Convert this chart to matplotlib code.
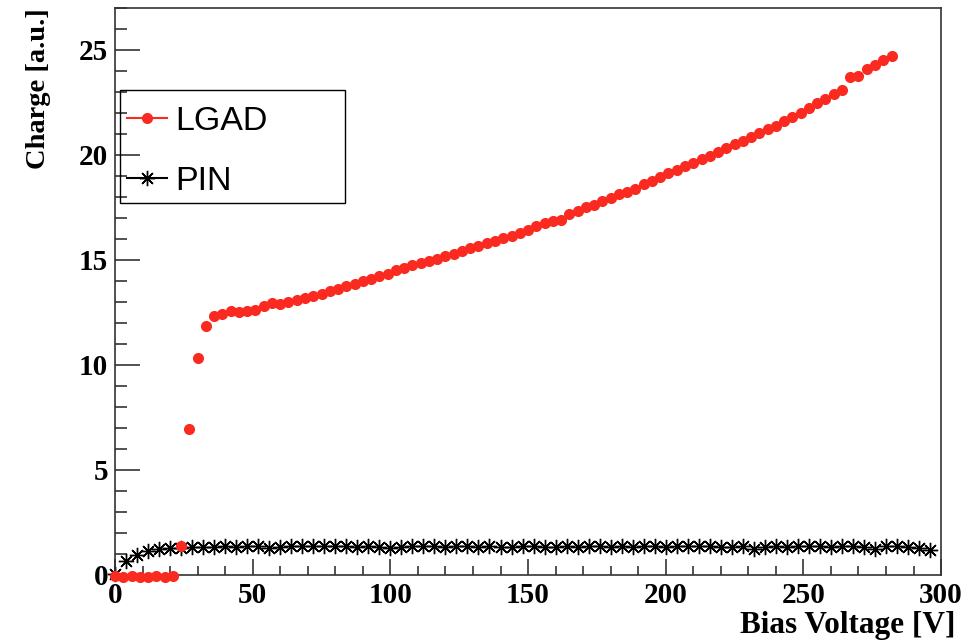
import numpy as np
import matplotlib
matplotlib.use("Agg")
import matplotlib.pyplot as plt
from matplotlib.lines import Line2D
from matplotlib.patches import Rectangle
from matplotlib.ticker import MultipleLocator
from matplotlib.font_manager import FontProperties

# LGAD charge vs bias voltage (3 V steps)
lgad_v = np.arange(0, 283, 3)
lgad_q = [
    -0.05, -0.10, -0.05, -0.10, -0.08, -0.05, -0.10, -0.05,  # 0-21 V
    1.40, 6.95, 10.35, 11.85, 12.35, 12.45, 12.55, 12.50,    # 24-45 V
    12.55, 12.60, 12.80, 12.95, 12.90, 13.00, 13.10, 13.20,  # 48-69 V
    13.30, 13.40, 13.50, 13.60, 13.75, 13.85, 14.00, 14.10,  # 72-93 V
    14.25, 14.35, 14.50, 14.60, 14.75, 14.85, 14.95, 15.05,  # 96-117 V
    15.20, 15.30, 15.45, 15.55, 15.65, 15.80, 15.90, 16.05,  # 120-141 V
    16.15, 16.30, 16.45, 16.60, 16.75, 16.85, 16.90, 17.20,  # 144-165 V
    17.35, 17.50, 17.60, 17.80, 17.95, 18.15, 18.25, 18.40,  # 168-189 V
    18.60, 18.75, 18.95, 19.15, 19.30, 19.45, 19.60, 19.80,  # 192-213 V
    19.95, 20.15, 20.35, 20.50, 20.65, 20.85, 21.05, 21.25,  # 216-237 V
    21.40, 21.60, 21.80, 22.00, 22.25, 22.45, 22.65, 22.90,  # 240-261 V
    23.10, 23.70, 23.75, 24.10, 24.30, 24.50, 24.70,         # 264-282 V
]

# PIN charge vs bias voltage (4 V steps)
pin_v = np.arange(0, 297, 4)
pin_q = [
    0.05, 0.65, 0.95, 1.15, 1.25, 1.30, 1.30, 1.33, 1.35, 1.33,
    1.38, 1.35, 1.36, 1.38, 1.30, 1.33, 1.36, 1.40, 1.36, 1.38,
    1.40, 1.38, 1.35, 1.38, 1.33, 1.30, 1.35, 1.36, 1.38, 1.36,
    1.35, 1.38, 1.36, 1.35, 1.36, 1.33, 1.35, 1.36, 1.38, 1.35,
    1.33, 1.36, 1.35, 1.38, 1.36, 1.33, 1.36, 1.35, 1.38, 1.36,
    1.35, 1.38, 1.36, 1.36, 1.38, 1.35, 1.33, 1.36, 1.25, 1.33,
    1.36, 1.35, 1.36, 1.38, 1.36, 1.35, 1.38, 1.36, 1.35, 1.25,
    1.38, 1.36, 1.33, 1.30, 1.20,
]

red = "#fa2a20"
lgad_style = dict(color=red, marker="o", markersize=8, markeredgewidth=0)
pin_style = dict(color="black", marker=(8, 2, 0), markersize=11, markeredgewidth=1.0)

fig = plt.figure(figsize=(9.73, 6.4), dpi=100)
ax = fig.add_axes([0.1182, 0.1016, 0.849, 0.886])

ax.plot(pin_v, pin_q, linestyle="none", clip_on=False, zorder=2, **pin_style)
ax.plot(lgad_v, lgad_q, linestyle="none", clip_on=False, zorder=3, **lgad_style)

ax.set_xlim(0, 300)
ax.set_ylim(0, 27)
ax.xaxis.set_major_locator(MultipleLocator(50))
ax.xaxis.set_minor_locator(MultipleLocator(10))
ax.yaxis.set_major_locator(MultipleLocator(5))
ax.yaxis.set_minor_locator(MultipleLocator(1))

tick_fp = FontProperties(family="Liberation Serif", weight="bold", size=21)
xlabel_fp = FontProperties(family="Liberation Serif", weight="bold", size=22.5)
ylabel_fp = FontProperties(family="Liberation Serif", weight="bold", size=20.5)

ax.tick_params(axis="both", which="both", direction="in", top=False, right=False,
               width=1.2, color="#333333")
ax.tick_params(axis="y", which="major", length=18, pad=5)
ax.tick_params(axis="y", which="minor", length=8.6)
ax.tick_params(axis="x", which="major", length=11.5, pad=5)
ax.tick_params(axis="x", which="minor", length=6.5)
for lab in ax.get_xticklabels() + ax.get_yticklabels():
    lab.set_fontproperties(tick_fp)

for sp in ax.spines.values():
    sp.set_linewidth(1.2)
    sp.set_color("#333333")

ax.set_xlabel("Bias Voltage [V]", fontproperties=xlabel_fp, loc="right")
ax.set_ylabel("Charge [a.u.]", fontproperties=ylabel_fp, loc="top")
ax.xaxis.set_label_coords(1.017, -0.064)
ax.yaxis.set_label_coords(-0.078, 1.0)

# legend with a hand-drawn frame
fig.patches.append(Rectangle((120 / 973, 1 - 203 / 640), 225 / 973, 113 / 640,
                             transform=fig.transFigure, fill=False,
                             edgecolor="black", linewidth=1.0, zorder=5))
handles = [
    Line2D([], [], linewidth=1.5, **lgad_style),
    Line2D([], [], linewidth=1.5, **pin_style),
]
fig.legend(handles, ["LGAD", "PIN"], loc="upper left",
           bbox_to_anchor=(127 / 973, 1 - 106 / 640), frameon=False,
           prop={"family": "Liberation Sans", "size": 24.5},
           handlelength=1.18, handletextpad=0.24, labelspacing=0.85,
           borderpad=0, borderaxespad=0)

fig.savefig("out.png", dpi=100)
